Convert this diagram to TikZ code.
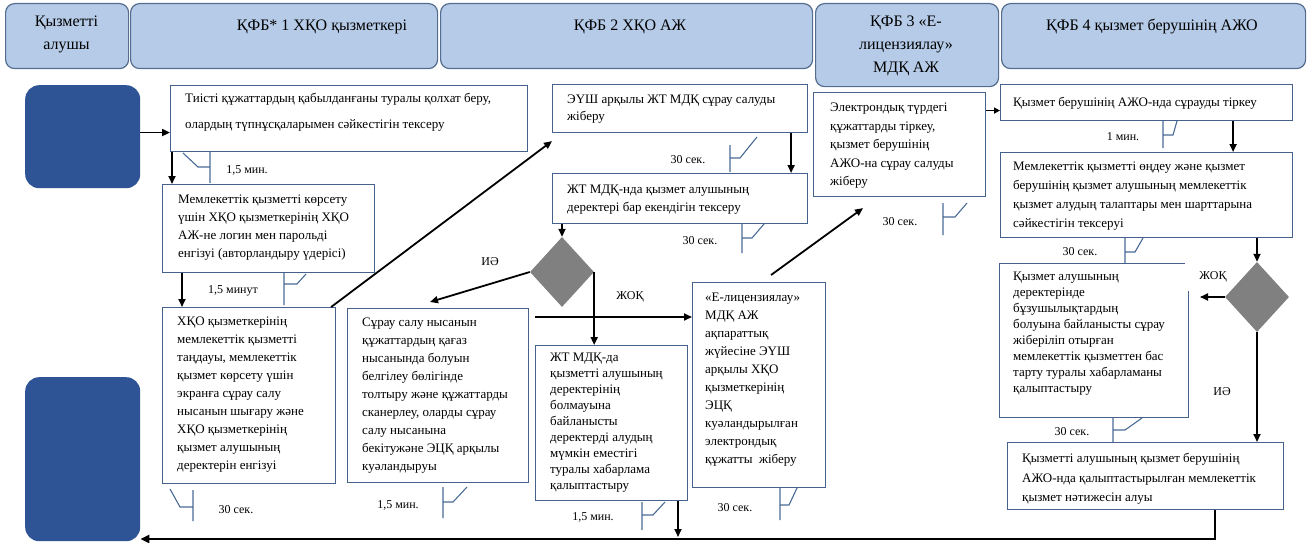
\documentclass[tikz,border=0pt]{standalone}
\usepackage{fontspec}
\setmainfont{Liberation Serif}
\usetikzlibrary{shapes.geometric,arrows.meta}
\definecolor{hdrfill}{RGB}{181,203,232}
\definecolor{hdrline}{RGB}{84,108,142}
\definecolor{boxline}{RGB}{70,98,140}
\definecolor{callline}{RGB}{74,106,150}
\definecolor{blkblue}{RGB}{46,84,150}
\definecolor{diagray}{RGB}{128,128,128}
\tikzset{
 hdr/.style={draw=hdrline, fill=hdrfill, line width=1.2pt, rounded corners=9pt, inner sep=0, anchor=north west},
 htxt/.style={font=\fontsize{16}{23}\selectfont, align=center, inner sep=0},
 box/.style={draw=boxline, line width=1.1pt, fill=white, inner sep=0},
 txt/.style={align=left, inner sep=0},
 arr/.style={line width=1.8pt, -{Triangle[length=8pt,width=7pt]}},
 arrthick/.style={line width=2.4pt, -{Triangle[length=9pt,width=8pt]}},
 cl/.style={draw=callline, line width=1.1pt},
 lbl/.style={font=\fontsize{12}{14}\selectfont, inner sep=0},
 dia/.style={diamond, fill=diagray, inner sep=0, minimum width=64pt, minimum height=70pt},
 blk/.style={fill=blkblue, rounded corners=14pt, inner sep=0, anchor=north west}
}
\newcommand\mybox[9]{%
 \node[box, anchor=north west, minimum width=#4pt, minimum height=#5pt] (#1) at (#2,#3) {};
 \node[txt, anchor=north west, font=\fontsize{13}{#8}\selectfont] (#1t) at (#6,#7) {#9};}
\begin{document}
\begin{tikzpicture}[x=1pt,y=-1pt]
\useasboundingbox (0,0) rectangle (1309,543);
% headers
\node[hdr, minimum width=123pt, minimum height=65pt] (h1) at (5,3) {};
\node[htxt] (h1t) at (66.5,34) {Қызметті\\алушы};
\node[hdr, minimum width=307pt, minimum height=65pt] (h2) at (130,3) {};
\node[htxt] (h2t) at (322,27) {ҚФБ* 1 ХҚО қызметкері};
\node[hdr, minimum width=372pt, minimum height=65pt] (h3) at (440,3) {};
\node[htxt] (h3t) at (630,27) {ҚФБ 2 ХҚО АЖ};
\node[hdr, minimum width=183pt, minimum height=83pt] (h4) at (815,3) {};
\node[htxt] (h4t) at (906,46) {ҚФБ 3 «Е-\\лицензиялау»\\МДҚ АЖ};
\node[hdr, minimum width=304pt, minimum height=65pt] (h5) at (1001,3) {};
\node[htxt] (h5t) at (1152,27) {ҚФБ 4 қызмет берушінің АЖО};
% start / end blocks
\node[blk, minimum width=115pt, minimum height=103pt] (st) at (25,85) {};
\node[blk, minimum width=115pt, minimum height=164pt] (en) at (25,377) {};
% boxes
\mybox{b1}{170}{85}{357}{66}{185}{93}{26}{Тиісті құжаттардың қабылданғаны туралы қолхат беру,\\олардың түпнұсқаларымен сәйкестігін тексеру}
\mybox{b2}{162}{184}{212}{88}{178}{195}{18}{Мемлекеттік қызметті көрсету\\үшін ХҚО қызметкерінің ХҚО\\АЖ-не логин мен парольді\\енгізуі (авторландыру үдерісі)}
\mybox{b3}{162}{307}{173}{176}{177}{317}{18}{ХҚО қызметкерінің\\мемлекеттік қызметті\\таңдауы, мемлекеттік\\қызмет көрсету үшін\\экранға сұрау салу\\нысанын шығару және\\ХҚО қызметкерінің\\қызмет алушының\\деректерін енгізуі}
\mybox{b4}{552}{84}{255}{48}{567}{95}{17}{ЭҮШ арқылы ЖТ МДҚ сұрау салуды\\жіберу}
\mybox{b5}{552}{173}{255}{50}{567}{185}{18}{ЖТ МДҚ-нда қызмет алушының\\деректері бар екендігін тексеру}
\mybox{b6}{347}{308}{181}{174}{362}{318}{18}{Сұрау салу нысанын\\құжаттардың қағаз\\нысанында болуын\\белгілеу бөлігінде\\толтыру және құжаттарды\\сканерлеу, оларды сұрау\\салу нысанына\\бекітужәне ЭЦҚ арқылы\\куәландыруы}
\mybox{b7}{535}{345}{152}{155}{550}{353}{16}{ЖТ МДҚ-да\\қызметті алушының\\деректерінің\\болмауына\\байланысты\\деректерді алудың\\мүмкін еместігі\\туралы хабарлама\\қалыптастыру}
\mybox{b8}{692}{282}{133}{205}{705}{293}{18}{«Е-лицензиялау»\\МДҚ АЖ\\ақпараттық\\жүйесіне ЭҮШ\\арқылы ХҚО\\қызметкерінің\\ЭЦҚ\\куәландырылған\\электрондық\\құжатты~ жіберу}
\mybox{b9}{813}{92}{172}{104}{830}{103}{18.5}{Электрондық түрдегі\\құжаттарды тіркеу,\\қызмет берушінің\\АЖО-на сұрау салуды\\жіберу}
\mybox{b10}{1000}{84}{292}{36}{1013}{97}{18}{Қызмет берушінің АЖО-нда сұрауды тіркеу}
\mybox{b11}{1000}{152}{292}{85}{1013}{162}{19}{Мемлекеттік қызметті өңдеу және қызмет\\берушінің қызмет алушының мемлекеттік\\қызмет алудың талаптары мен шарттарына\\сәйкестігін тексеруі}
% label partly hidden behind box 12
\node[lbl] (l11) at (1080,252) {30 сек.};
\mybox{b12}{999}{263}{189}{154}{1013}{272}{16}{Қызмет алушының\\деректерінде\\бұзушылықтардың\\болуына байланысты сұрау\\жіберіліп отырған\\мемлекеттік қызметтен бас\\тарту туралы хабарламаны\\қалыптастыру}
\mybox{b13}{1007}{442}{276}{67}{1022}{453}{19.5}{Қызметті алушының қызмет берушінің\\АЖО-нда қалыптастырылған мемлекеттік\\қызмет нәтижесін алуы}
% decisions
\node[lbl, fill=white, minimum width=56pt, minimum height=28pt] (lj2) at (1213,277) {ЖОҚ};
\node[dia] (d1) at (562,272) {};
\node[dia] (d2) at (1257,297) {};
% labels
\node[lbl] (li1) at (490,262) {ИӘ};
\node[lbl] (lj1) at (630,297) {ЖОҚ};
\node[lbl] (li2) at (1222,392) {ИӘ};
% callouts
\draw[cl] (210,151) -- (210,183) (210,167) -- (198,167) -- (183,153);
\node[lbl] (c1) at (247,170) {1,5 мин.};
\draw[cl] (284,273) -- (284,305) (284,284) -- (297,284) -- (306,274);
\node[lbl] (c2) at (233,291) {1,5 минут};
\draw[cl] (193,490) -- (193,521) (193,507) -- (180,507) -- (170,489);
\node[lbl] (c3) at (236,510) {30 сек.};
\draw[cl] (443,487) -- (443,518) (443,502) -- (453,502) -- (467,487);
\node[lbl] (c4) at (398,505) {1,5 мин.};
\draw[cl] (730,145) -- (730,172) (730,158) -- (740,158) -- (757,137);
\node[lbl] (c5) at (688,160) {30 сек.};
\draw[cl] (742,223) -- (742,253) (742,238) -- (752,238) -- (764,224);
\node[lbl] (c6) at (700,241) {30 сек.};
\draw[cl] (642,502) -- (642,530) (642,515) -- (653,515) -- (665,502);
\node[lbl] (c7) at (593,517) {1,5 мин.};
\draw[cl] (780,488) -- (780,520) (780,505) -- (789,505) -- (797,488);
\node[lbl] (c8) at (735,508) {30 сек.};
\draw[cl] (943,203) -- (943,235) (943,217) -- (955,217) -- (967,203);
\node[lbl] (c9) at (900,222) {30 сек.};
\draw[cl] (1163,121) -- (1163,148) (1163,135) -- (1173,135) -- (1177,121);
\node[lbl] (c10) at (1123,137) {1 мин.};
\draw[cl] (1125,238) -- (1125,263) (1125,252) -- (1135,252) -- (1143,238);
\draw[cl] (1113,418) -- (1113,442) (1113,430) -- (1125,430) -- (1142,418);
\node[lbl] (c12) at (1072,432) {30 сек.};
% connectors
\coordinate (a1) at ([yshift=-14pt]b1.west);
\draw[arr] (st.east |- a1) -- (a1);
\coordinate (a2) at ([xshift=2pt]b1.south west);
\draw[arr] (a2) -- (a2 |- b2.north);
\coordinate (a3) at ([xshift=20pt]b2.south west);
\draw[arr] (a3) -- (a3 |- b3.north);
\draw[arr] ([xshift=-5pt]b3.north east) -- ([yshift=-8pt]b4.south west);
\coordinate (a5) at ([xshift=-17pt]b4.south east);
\draw[arr] (a5) -- (a5 |- b5.north);
\draw[arr] (b5.south -| d1.north) -- (d1.north);
\coordinate (a7) at (430,302);
\draw[arr] (d1.west) -- (a7);
\draw[arr] (d1.east) -- (d1.east |- b7.north);
\coordinate (a9) at (535,317);
\draw[arr] (a9) -- (a9 -| b8.west);
\coordinate (a10s) at ([xshift=12pt,yshift=7pt]b8.north);
\coordinate (a10e) at ([xshift=50pt,yshift=-11pt]b9.south west);
\draw[arr] (a10s) -- (a10e);
\coordinate (a11) at ([yshift=-8pt]b10.west);
\draw[line width=1.4pt, -{Triangle[length=6pt,width=6pt]}] (a11 -| b9.east) -- (a11);
\coordinate (a12) at ([xshift=-60pt]b10.south east);
\draw[arr] (a12) -- (a12 |- b11.north);
\draw[arr] (b11.south -| d2.north) -- (d2.north);
\coordinate (a14) at (1200,297);
\draw[arr] (d2.west) -- (a14);
\draw[arr] (d2.south) -- (d2.south |- b13.north);
\coordinate (r1) at (1215,539);
\draw[arrthick] (b13.south -| r1) -- (r1) -- (r1 -| en.east);
\coordinate (r2) at (678,537);
\draw[arr] (b7.south -| r2) -- (r2);
\end{tikzpicture}
\end{document}
